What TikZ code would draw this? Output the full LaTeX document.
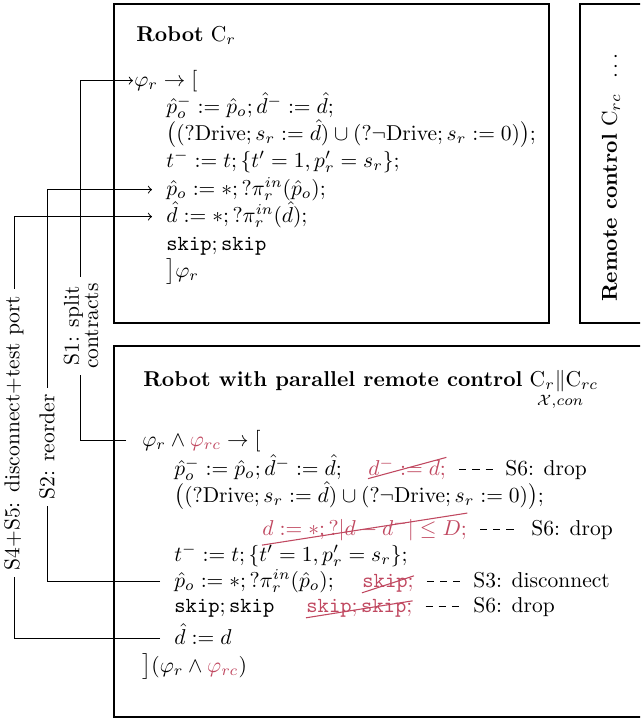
\documentclass[tikz,border=0pt]{standalone}
\usepackage{amsmath}
\definecolor{rcred}{RGB}{192,72,96}
\begin{document}
\begin{tikzpicture}[x=0.465pt,y=-0.465pt,
  box/.style={draw,line width=0.5pt},
  ln/.style={anchor=base west,inner sep=0pt,text height=7.5pt,text depth=2.5pt},
  cut/.style={anchor=base west,inner sep=0pt,text=rcred},
  strk/.style={draw=rcred,line width=0.5pt},
  link/.style={line width=0.45pt},
  tag/.style={fill=white,inner sep=3pt,rotate=90,align=center},
  dashlink/.style={dash pattern=on 3.3pt off 2.8pt on 3.3pt off 2.8pt on 3.3pt off 30pt,
    line width=0.45pt,shorten <=6pt,shorten >=5.5pt},
]
\clip (0,0) rectangle (640,720);

% frames of the three components
\draw[box] (114,4) rectangle (549,323);
\draw[box] (580,4) rectangle (660,323);
\draw[box] (114,346) rectangle (660,717);

% robot component
\node[anchor=base west,inner sep=0pt] (t1) at (136,41.5) {\textbf{Robot} $\mathrm{C}_r$};
\node[ln] (L0) at (134,86) {$\varphi_r \to [$};
\node[ln] (L1) at (166,113) {$\hat{p}_o^- := \hat{p}_o; \hat{d}^- := \hat{d};$};
\node[ln] (L2) at (166,140) {$\big((?\mathrm{Drive}; s_r := \hat{d}) \cup (?\neg\mathrm{Drive}; s_r := 0)\big);$};
\node[ln] (L3) at (166,167) {$t^- := t; \{t' = 1, p_r' = s_r\};$};
\node[ln] (L4) at (166,195) {$\hat{p}_o := *; ?\pi_r^{in}(\hat{p}_o);$};
\node[ln] (L5) at (166,222) {$\hat{d} := *; ?\pi_r^{in}(\hat{d});$};
\node[ln] (L6) at (166,250) {$\mathtt{skip}; \mathtt{skip}$};
\node[ln] (L7) at (166,277) {$\big]\varphi_r$};

% remote control component
\node[rotate=90,anchor=west,inner sep=0pt] (rc) at (611,302) {\textbf{Remote control} $\mathrm{C}_{rc}\;\;\ldots$};

% composed system
\node[anchor=base west,inner sep=0pt] (t2) at (143,386) {\textbf{Robot with parallel remote control} $\mathrm{C}_r\mathord{\mathop{\|}\limits_{\makebox[0pt]{$\scriptstyle\mathcal{X},con$}}}\mathrm{C}_{rc}$};
\node[ln] (B0) at (142,446) {$\varphi_r \land \textcolor{rcred}{\varphi_{rc}} \to [$};
\node[ln] (B1) at (174,475) {$\hat{p}_o^- := \hat{p}_o; \hat{d}^- := \hat{d};$};
\node[ln] (B2) at (174,502) {$\big((?\mathrm{Drive}; s_r := \hat{d}) \cup (?\neg\mathrm{Drive}; s_r := 0)\big);$};
\node[ln] (B3) at (174,561) {$t^- := t; \{t' = 1, p_r' = s_r\};$};
\node[ln] (B4) at (174,587) {$\hat{p}_o := *; ?\pi_r^{in}(\hat{p}_o);$};
\node[ln] (B5) at (174,612) {$\mathtt{skip}; \mathtt{skip}$};
\node[ln] (B6) at (174,644) {$\hat{d} := d$};
\node[ln] (B7) at (142,672) {$\big](\varphi_r \land \textcolor{rcred}{\varphi_{rc}})$};

% dropped statements, struck out
\node[cut,text height=8pt,text depth=1.5pt] (R1) at (368,475) {$d^- := d;$};
\node[cut,text height=10pt,text depth=4.5pt] (R2) at (262,535) {$d := *; ?|d - d^-| \leq D;$};
\node[cut,text height=5pt,text depth=2.5pt] (R3) at (362,587) {$\mathtt{skip};$};
\node[cut,text height=5pt,text depth=2.5pt] (R4) at (306,612) {$\mathtt{skip}; \mathtt{skip};$};
\foreach \r in {R1,R2,R3,R4}
  \draw[strk] (\r.south west) -- (\r.north east);

% step annotations
\node[ln] (D1) at (505,475) {S6: drop};
\node[ln] (D2) at (531,535) {S6: drop};
\node[ln] (D3) at (473,587) {S3: disconnect};
\node[ln] (D4) at (473,612) {S6: drop};
\draw[dashlink] (D1.west -| R1.east) -- (D1.west);
\draw[dashlink] (D2.west -| R2.east) -- (D2.west);
\draw[dashlink] (D3.west -| R3.east) -- (D3.west);
\draw[dashlink] (D4.west -| R4.east) -- (D4.west);

% refinement steps linking the two robot programs
\coordinate (c1) at (80,0);
\coordinate (c2) at (47,0);
\coordinate (c3) at (14,0);
\draw[link,->,shorten <=7.4pt,shorten >=0.5pt] (B0.west) -- (B0.west -| c1) |- (L0.west);
\draw[link,->,shorten <=6.5pt,shorten >=6.5pt] (B4.west) -- (B4.west -| c2) |- (L4.west);
\draw[link,->,shorten <=6.5pt,shorten >=6.5pt] (B6.west) -- (B6.west -| c3) |- (L5.west);

\node[tag] (s1) at (81,326) {S1: split\\[-3pt]contracts};
\node[tag] (s2) at (47,447) {S2: reorder};
\node[tag] (s45) at (14,433) {S4$+$S5: disconnect$+$test port};
\end{tikzpicture}
\end{document}
